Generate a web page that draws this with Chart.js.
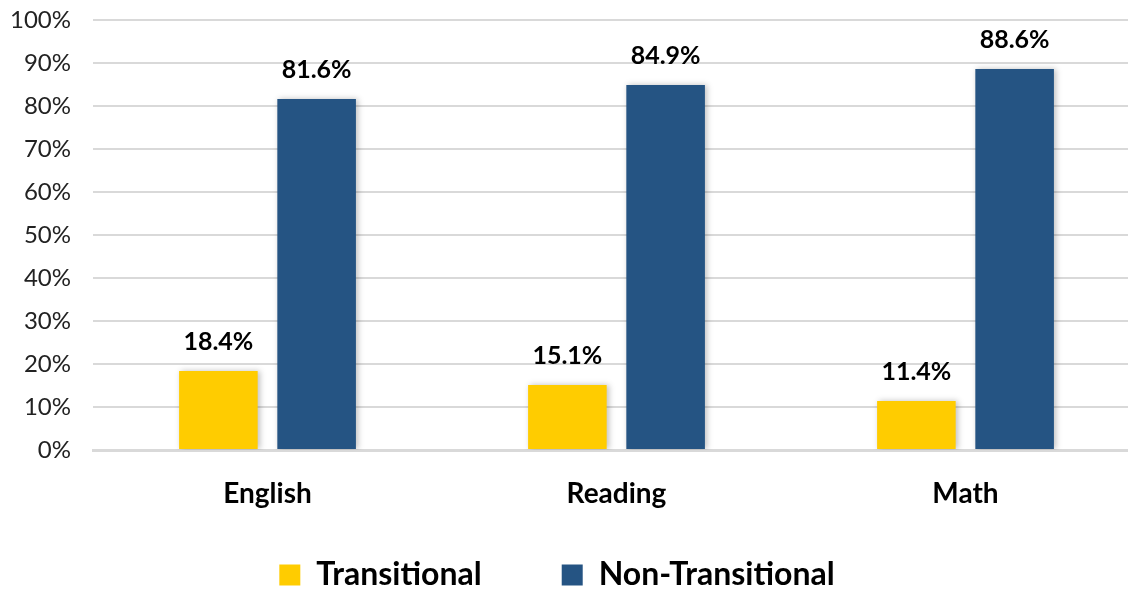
<!DOCTYPE html>
<html>
<head>
<meta charset="utf-8">
<script src="https://cdn.jsdelivr.net/npm/chart.js@4/dist/chart.umd.min.js"></script>
<style>
html,body{margin:0;padding:0;background:#fff;overflow:hidden;}
#wrap{position:relative;width:1140px;height:591px;}
</style>
</head>
<body>
<div id="wrap"><canvas id="c"></canvas></div>
<script>
const categories = ["English", "Reading", "Math"];
const transitional = [18.4, 15.1, 11.4];
const nonTransitional = [81.6, 84.9, 88.6];
const seriesNames = ["Transitional", "Non-Transitional"];
const yTicks = [0, 10, 20, 30, 40, 50, 60, 70, 80, 90, 100];

const FONT = "Lato, 'Open Sans', 'Liberation Sans', sans-serif";
const LEGEND_PAD = 80;
const LEGEND_HEIGHT = 70;
const LEGEND_DRAW_HEIGHT = 112;
const LEGEND_DX = -13;

const labelPlugin = {
  id: 'valueLabels',
  afterDatasetsDraw(chart) {
    const ctx = chart.ctx;
    ctx.save();
    ctx.font = "bold 25px " + FONT;
    ctx.fillStyle = "#000";
    ctx.textAlign = "center";
    ctx.textBaseline = "alphabetic";
    chart.data.datasets.forEach((ds, i) => {
      const meta = chart.getDatasetMeta(i);
      meta.data.forEach((bar, j) => {
        ctx.fillText(ds.data[j].toFixed(1) + "%", bar.x, bar.y - 21);
      });
    });
    ctx.restore();
  }
};

const shadowPlugin = {
  id: 'barShadow',
  beforeDatasetDraw(chart) {
    const ctx = chart.ctx;
    ctx.save();
    ctx.shadowColor = "rgba(0,0,0,0.25)";
    ctx.shadowBlur = 6;
    ctx.shadowOffsetX = 2;
    ctx.shadowOffsetY = 0;
  },
  afterDatasetDraw(chart) {
    chart.ctx.restore();
  }
};

const legendPlacePlugin = {
  id: 'legendPlace',
  afterInit(chart) {
    const lg = chart.legend;
    if (!lg) return;
    const origFit = lg.fit.bind(lg);
    lg.fit = function () { origFit(); this.height = LEGEND_HEIGHT; };
    const origDraw = lg.draw.bind(lg);
    lg.draw = function () {
      const saved = { top: this.top, bottom: this.bottom, height: this.height, left: this.left, right: this.right };
      this.top = this.bottom - LEGEND_DRAW_HEIGHT;
      this.height = LEGEND_DRAW_HEIGHT;
      this.left += LEGEND_DX;
      this.right += LEGEND_DX;
      origDraw();
      Object.assign(this, saved);
    };
  }
};

new Chart(document.getElementById('c'), {
  type: 'bar',
  data: {
    labels: categories,
    datasets: [
      { label: seriesNames[0], data: transitional, backgroundColor: "#FFCC00", categoryPercentage: 0.563, barPercentage: 0.8 },
      { label: seriesNames[1], data: nonTransitional, backgroundColor: "#255483", categoryPercentage: 0.563, barPercentage: 0.8 }
    ]
  },
  options: {
    responsive: true,
    maintainAspectRatio: false,
    animation: false,
    layout: { padding: { top: 20, left: 0, right: 0, bottom: 0 } },
    plugins: {
      legend: {
        position: 'bottom',
        labels: {
          font: { family: FONT, size: 32, weight: 'bold' },
          color: "#000",
          boxWidth: 21,
          boxHeight: 21,
          padding: LEGEND_PAD
        }
      },
      tooltip: { enabled: false }
    },
    scales: {
      y: {
        min: 0, max: 100,
        afterBuildTicks(axis) { axis.ticks = yTicks.map(v => ({ value: v })); },
        afterFit(axis) { axis.width = 93; axis.paddingTop = 0; axis.paddingBottom = 0; },
        ticks: {
          font: { family: FONT, size: 24 },
          color: "#222",
          padding: 22,
          callback: v => v + "%"
        },
        grid: { color: "#D9D9D9", lineWidth: 2, drawTicks: false },
        border: { display: false }
      },
      x: {
        afterFit(axis) { axis.height = 591 - LEGEND_HEIGHT - 450; axis.paddingLeft = 0; axis.paddingRight = 0; },
        ticks: {
          font: { family: FONT, size: 28, weight: 'bold' },
          color: "#000",
          padding: 27
        },
        grid: { display: false, drawTicks: false },
        border: { color: "#D9D9D9", width: 3 }
      }
    }
  },
  plugins: [legendPlacePlugin, shadowPlugin, labelPlugin]
});
</script>
</body>
</html>
